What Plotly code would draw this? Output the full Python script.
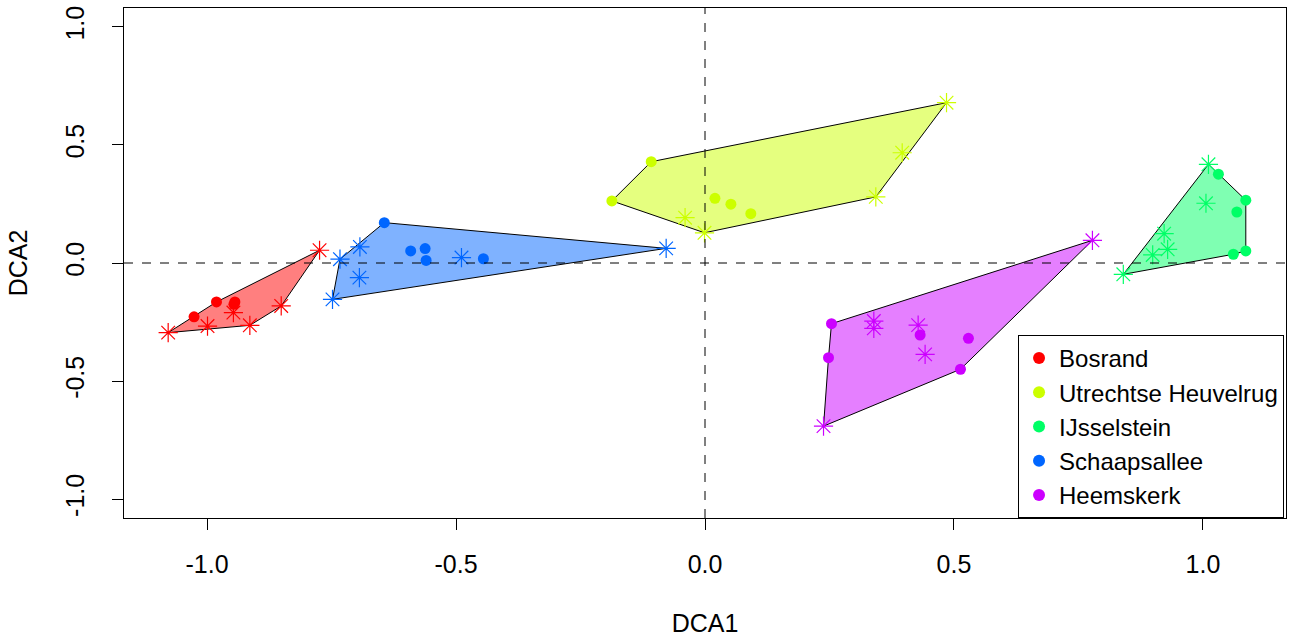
import plotly.graph_objects as go
import numpy as np

groups = ["Bosrand", "Utrechtse Heuvelrug", "IJsselstein", "Schaapsallee", "Heemskerk"]
colors = ["#FF0000", "#CCFF00", "#00FF66", "#0066FF", "#CC00FF"]
fills = ["rgba(255,0,0,0.5)", "rgba(204,255,0,0.5)", "rgba(0,255,102,0.5)",
         "rgba(0,102,255,0.5)", "rgba(204,0,255,0.5)"]

# dot-symbol samples (DCA1, DCA2)
bos_dot_x = [-1.026, -0.981, -0.944, -0.946]
bos_dot_y = [-0.228, -0.165, -0.165, -0.175]
bos_star_x = [-1.078, -0.774, -0.947, -0.999, -0.914, -0.851]
bos_star_y = [-0.295, 0.054, -0.210, -0.267, -0.264, -0.182]

utr_dot_x = [-0.108, -0.187, 0.020, 0.052, 0.092]
utr_dot_y = [0.429, 0.263, 0.274, 0.249, 0.209]
utr_star_x = [0.485, 0.396, 0.343, -0.001, -0.040]
utr_star_y = [0.679, 0.467, 0.280, 0.128, 0.192]

ijs_dot_x = [1.031, 1.086, 1.068, 1.086, 1.061]
ijs_dot_y = [0.376, 0.266, 0.216, 0.051, 0.037]
ijs_star_x = [1.011, 1.006, 0.922, 0.929, 0.899, 0.840]
ijs_star_y = [0.418, 0.253, 0.124, 0.058, 0.034, -0.048]

sch_dot_x = [-0.644, -0.591, -0.562, -0.560, -0.445]
sch_dot_y = [0.171, 0.051, 0.061, 0.011, 0.018]
sch_star_x = [-0.733, -0.693, -0.748, -0.694, -0.489, -0.078]
sch_star_y = [0.016, 0.068, -0.154, -0.062, 0.023, 0.062]

hee_dot_x = [0.254, 0.248, 0.513, 0.529, 0.432]
hee_dot_y = [-0.257, -0.401, -0.450, -0.319, -0.305]
hee_star_x = [0.778, 0.238, 0.339, 0.339, 0.428, 0.442]
hee_star_y = [0.096, -0.691, -0.246, -0.277, -0.263, -0.387]

data = [
    (bos_dot_x, bos_dot_y, bos_star_x, bos_star_y),
    (utr_dot_x, utr_dot_y, utr_star_x, utr_star_y),
    (ijs_dot_x, ijs_dot_y, ijs_star_x, ijs_star_y),
    (sch_dot_x, sch_dot_y, sch_star_x, sch_star_y),
    (hee_dot_x, hee_dot_y, hee_star_x, hee_star_y),
]


def convex_hull(xs, ys):
    pts = sorted(set(zip(xs, ys)))
    if len(pts) <= 2:
        return pts

    def cross(o, a, b):
        return (a[0] - o[0]) * (b[1] - o[1]) - (a[1] - o[1]) * (b[0] - o[0])

    lower = []
    for p in pts:
        while len(lower) >= 2 and cross(lower[-2], lower[-1], p) <= 0:
            lower.pop()
        lower.append(p)
    upper = []
    for p in reversed(pts):
        while len(upper) >= 2 and cross(upper[-2], upper[-1], p) <= 0:
            upper.pop()
        upper.append(p)
    return lower[:-1] + upper[:-1]


fig = go.Figure()

# hulls
for i, (dx, dy, sx, sy) in enumerate(data):
    hull = convex_hull(list(dx) + list(sx), list(dy) + list(sy))
    hx = [p[0] for p in hull] + [hull[0][0]]
    hy = [p[1] for p in hull] + [hull[0][1]]
    fig.add_trace(go.Scatter(x=hx, y=hy, mode="lines", fill="toself",
                             fillcolor=fills[i], line=dict(color="black", width=1),
                             showlegend=False, hoverinfo="skip"))

# points
for i, (dx, dy, sx, sy) in enumerate(data):
    fig.add_trace(go.Scatter(x=sx, y=sy, mode="markers",
                             marker=dict(symbol="asterisk-open", size=16, color=colors[i],
                                         line=dict(color=colors[i], width=1.2)),
                             showlegend=False))
    fig.add_trace(go.Scatter(x=dx, y=dy, mode="markers", name=groups[i],
                             marker=dict(symbol="circle", size=11, color=colors[i])))

fig.add_vline(x=0, line=dict(color="black", width=1, dash="dash"))
fig.add_hline(y=0, line=dict(color="black", width=1, dash="dash"))

fig.update_layout(
    width=1291, height=638,
    margin=dict(l=124, r=5, t=8, b=120),
    plot_bgcolor="white", paper_bgcolor="white",
    font=dict(family="Liberation Sans, Arial, sans-serif", size=25, color="black"),
    showlegend=True,
    legend=dict(x=0.7694, y=0, xanchor="left", yanchor="bottom",
                bordercolor="black", borderwidth=1, bgcolor="white",
                font=dict(size=24), itemsizing="constant",
                tracegroupgap=0),
)
fig.update_xaxes(range=[-1.1667, 1.1667], tickvals=[-1.0, -0.5, 0.0, 0.5, 1.0],
                 ticktext=["-1.0", "-0.5", "0.0", "0.5", "1.0"],
                 ticks="outside", ticklen=11, tickcolor="black",
                 showline=True, linecolor="black", linewidth=1, mirror=True,
                 showgrid=False, zeroline=False, ticklabelstandoff=13,
                 title=dict(text="DCA1", standoff=37, font=dict(size=25)))
fig.update_yaxes(range=[-1.08, 1.08], tickvals=[-1.0, -0.5, 0.0, 0.5, 1.0],
                 ticktext=["-1.0", "-0.5", "0.0", "0.5", "1.0"],
                 ticks="outside", ticklen=11, tickcolor="black", tickangle=-90,
                 showline=True, linecolor="black", linewidth=1, mirror=True,
                 showgrid=False, zeroline=False, ticklabelstandoff=18,
                 title=dict(text="DCA2", standoff=26, font=dict(size=25)))

fig.write_html("out.html")
